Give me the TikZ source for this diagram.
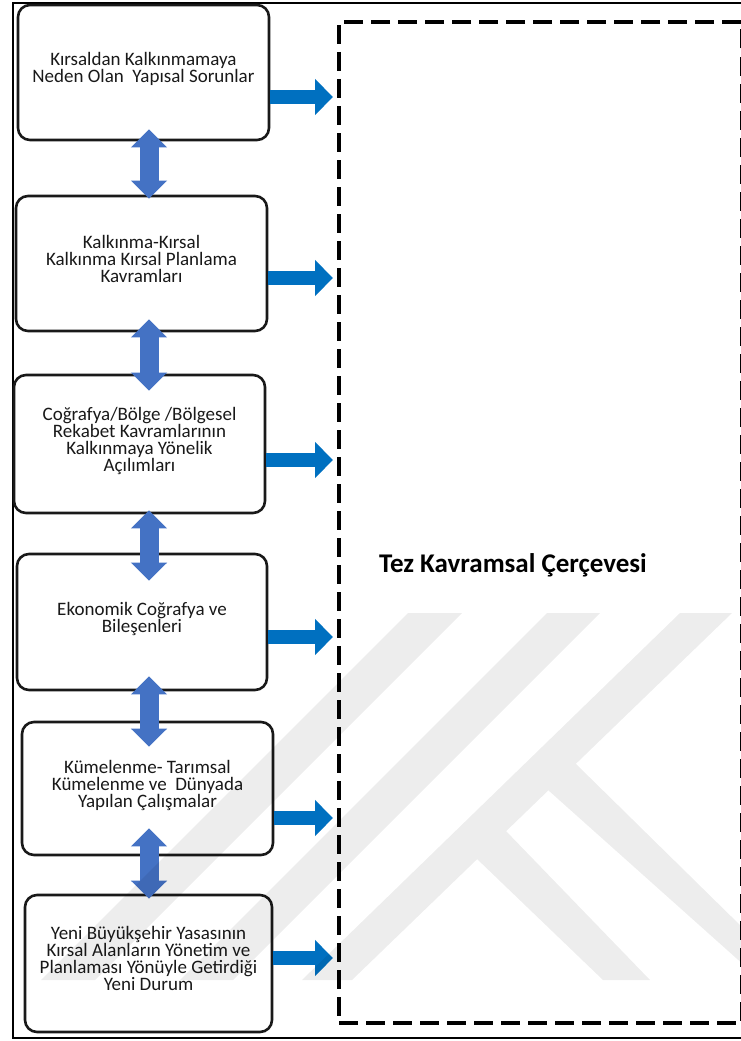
\documentclass[tikz,border=0pt]{standalone}
\usepackage{fontspec}
\setmainfont{Carlito}
\usepackage{tikz}
\usetikzlibrary{arrows.meta}
\definecolor{boxline}{RGB}{25,25,25}
\definecolor{feedblue}{HTML}{0070C0}
\definecolor{linkblue}{HTML}{4472C4}
\tikzset{
    stage/.style = {draw = boxline, line width = 2.6pt, rounded corners = 12pt, fill = white,
        align = center, inner sep = 0pt, text = boxline, text depth = 10pt, font = \fontsize{19}{17}\selectfont},
    feed/.style = {feedblue, line width = 13.5pt, shorten >= 4pt,
        arrows = {-Triangle[width = 35pt, length = 18pt]}},
    link/.style = {linkblue, line width = 19pt,
        arrows = {Triangle[width = 35pt, length = 18pt]-Triangle[width = 35pt, length = 18pt]}}
}

\begin{document}
\begin{tikzpicture}[x = 1pt, y = -1pt]
            \useasboundingbox (0, 0) rectangle (740, 1041);
            \draw[line width = 1.6pt] (13, 3) rectangle (746, 1038);
            \node[draw, line width = 4pt, dash pattern = on 19pt off 8pt, minimum width = 402.5pt, minimum height = 1001pt] (cerceve) at (540.25, 522.5) {};
            \node[font = \bfseries\fontsize{27}{30}\selectfont] (baslik) at (513, 565) {Tez Kavramsal Çerçevesi};
            \coordinate (eksen) at (149, 0);
            \node[stage, minimum width = 251pt, minimum height = 135pt] (sorun) at (143.5, 72.5)
                {Kırsaldan Kalkınmamaya\\Neden Olan~ Yapısal Sorunlar};
            \node[stage, minimum width = 251pt, minimum height = 135pt] (kalkinma) at (141.5, 263.5)
                {Kalkınma-Kırsal\\Kalkınma Kırsal Planlama\\Kavramları};
            \node[stage, minimum width = 251pt, minimum height = 138pt] (cografya) at (139.5, 444)
                {Coğrafya/Bölge /Bölgesel\\Rekabet Kavramlarının\\Kalkınmaya Yönelik\\Açılımları};
            \node[stage, minimum width = 250pt, minimum height = 136pt] (ekonomi) at (142, 622)
                {Ekonomik Coğrafya ve\\Bileşenleri};
            \node[stage, minimum width = 251pt, minimum height = 133pt] (kume) at (147.5, 788.5)
                {Kümelenme- Tarımsal\\Kümelenme ve~ Dünyada\\Yapılan Çalışmalar};
            \node[stage, minimum width = 247pt, minimum height = 137pt] (yasa) at (148.5, 963.5)
                {Yeni Büyükşehir Yasasının\\Kırsal Alanların Yönetim ve\\Planlaması Yönüyle Getirdiği\\Yeni Durum};
            % oklar
            \foreach \n/\y in {sorun/97, kalkinma/278, cografya/460, ekonomi/637, kume/818, yasa/958} {
                \draw[feed] (\n.east |- 0, \y) -- (cerceve.west |- 0, \y);
            }
            \foreach \a/\b/\s/\e in {sorun/kalkinma/12/4, kalkinma/cografya/13/17, cografya/ekonomi/4/28,
                    ekonomi/kume/15/26, kume/yasa/28/5} {
                \draw[link, shorten <= -\s pt, shorten >= -\e pt] (\a.south -| eksen) -- (\b.north -| eksen);
            }
            % filigran
            \begin{scope}[transparency group, opacity = 0.07]
                \fill (680, 613) -- (732, 613) -- (352, 980) -- (302, 980) -- cycle;
                \fill (547, 613) -- (600, 613) -- (233, 980) -- (180, 980) -- cycle;
                \fill (408, 613) -- (462, 613) -- (95, 980) -- (41, 980) -- cycle;
                \fill (505, 830) -- (650, 980) -- (603, 980) -- (476, 858) -- cycle;
                \fill (575, 763) -- (745, 930) -- (745, 966) -- (548, 790) -- cycle;
            \end{scope}
        \end{tikzpicture}
\end{document}
